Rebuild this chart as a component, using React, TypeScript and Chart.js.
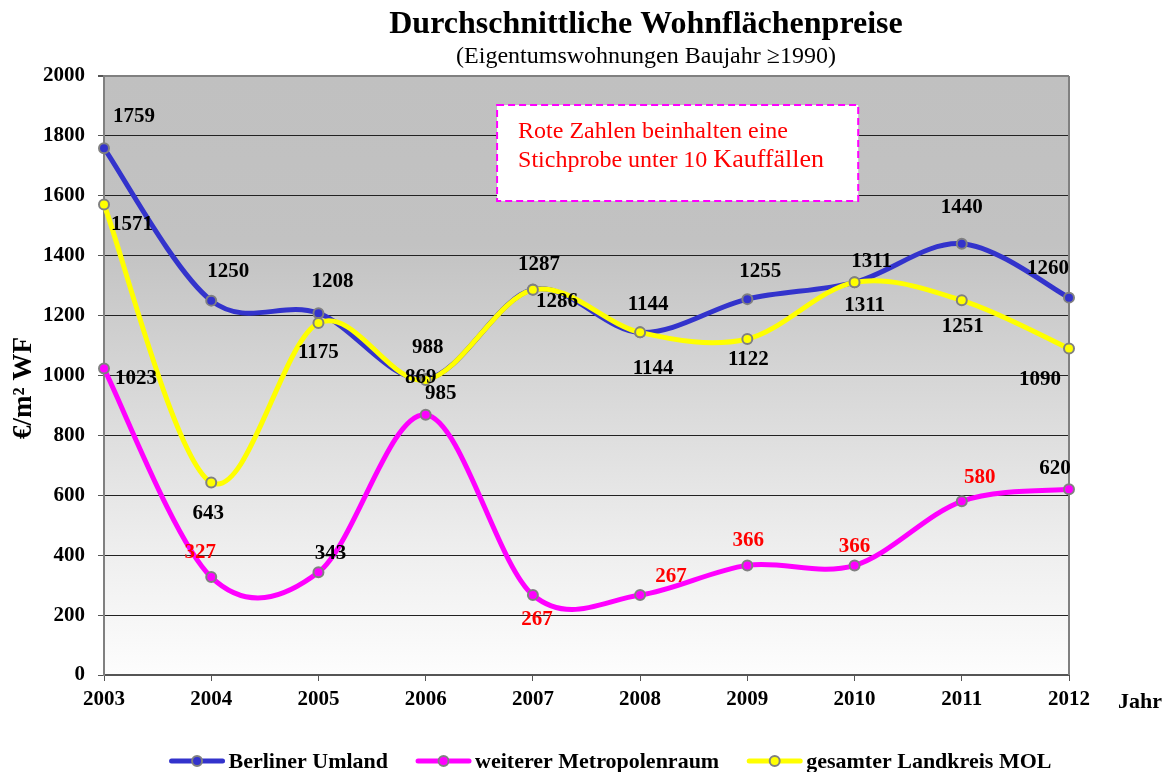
import React, { useEffect, useRef } from 'react';
import { Chart, registerables } from 'chart.js';

Chart.register(...registerables);

const FONT = "'Liberation Serif', 'Times New Roman', Times, serif";

// Years on the category axis
const years = ['2003', '2004', '2005', '2006', '2007', '2008', '2009', '2010', '2011', '2012'];
// Value axis ticks (€/m²)
const yTickValues = [0, 200, 400, 600, 800, 1000, 1200, 1400, 1600, 1800, 2000];

// Average prices per m² living area
const berlinerUmland = [1759, 1250, 1208, 988, 1287, 1144, 1255, 1311, 1440, 1260];
const weitererMetropolenraum = [1023, 327, 343, 869, 267, 267, 366, 366, 580, 620];
const landkreisMOL = [1571, 643, 1175, 985, 1286, 1144, 1122, 1311, 1251, 1090];
// Metropolenraum values based on fewer than 10 sales (printed in red)
const metropolenraumUnder10 = [false, true, false, false, true, true, true, true, true, false];

const seriesLabels = ['Berliner Umland', 'weiterer Metropolenraum', 'gesamter Landkreis MOL'];
const seriesColors = ['#3333cc', '#ff00ff', '#ffff00'];

// Value label placement relative to each point (dx, dy in px)
const berlinerLabelOffset = [[30, -32], [17, -29], [14, -32], [2, -32], [6, -25], [8, -28], [13, -28], [17, -21], [0, -36], [-21, -29]];
const metropolenLabelOffset = [[32, 10], [-11, -24], [12, -19], [-5, -37], [4, 25], [31, -18], [1, -25], [0, -19], [18, -24], [-14, -21]];
const molLabelOffset = [[28, 20], [-3, 31], [0, 29], [15, 14], [24, 12], [13, 36], [1, 21], [10, 23], [1, 26], [-29, 31]];

const titleText = 'Durchschnittliche Wohnflächenpreise';
const subtitleText = '(Eigentumswohnungen Baujahr \u22651990)';
const yAxisTitle = '€/m² WF';
const xAxisTitle = 'Jahr';
const noteLine1 = 'Rote Zahlen beinhalten eine';
const noteLine2a = 'Stichprobe unter 10 ';
const noteLine2b = 'Kauffällen';

const labelOffsets = [berlinerLabelOffset, metropolenLabelOffset, molLabelOffset];
const labelColor = (ds: number, i: number) =>
  ds === 1 && metropolenraumUnder10[i] ? '#ff0000' : '#000000';

// Spreadsheet-style smoothing: uniform Catmull-Rom tangents (neighbour difference / 6)
function applyUniformSmoothing(chart: any) {
  chart.data.datasets.forEach((_ds: any, d: number) => {
    const meta = chart.getDatasetMeta(d);
    const line = meta.dataset;
    if (line && typeof line.updateControlPoints === 'function') {
      line.updateControlPoints(chart.chartArea, 'x');
    }
    const pts = meta.data;
    const n = pts.length;
    for (let i = 0; i < n; i++) {
      const prev = pts[Math.max(0, i - 1)];
      const next = pts[Math.min(n - 1, i + 1)];
      const tx = (next.x - prev.x) / 6;
      const ty = (next.y - prev.y) / 6;
      pts[i].cp1x = pts[i].x - tx;
      pts[i].cp1y = pts[i].y - ty;
      pts[i].cp2x = pts[i].x + tx;
      pts[i].cp2y = pts[i].y + ty;
    }
  });
}

const decorPlugin = {
  id: 'decor',
  beforeDraw(chart: any) {
    const { ctx, chartArea: a } = chart;
    const g = ctx.createLinearGradient(0, a.top, 0, a.bottom);
    g.addColorStop(0, '#c0c0c0');
    g.addColorStop(0.28, '#c2c2c2');
    g.addColorStop(0.55, '#dadada');
    g.addColorStop(0.8, '#efefef');
    g.addColorStop(1, '#fdfdfd');
    ctx.save();
    ctx.fillStyle = g;
    ctx.fillRect(a.left, a.top, a.right - a.left, a.bottom - a.top);
    ctx.restore();
  },
  beforeDatasetsDraw(chart: any) {
    applyUniformSmoothing(chart);
    const { ctx, chartArea: a, scales } = chart;
    ctx.save();
    // right frame edge
    ctx.strokeStyle = '#808080';
    ctx.lineWidth = 2;
    ctx.beginPath();
    ctx.moveTo(a.right, a.top);
    ctx.lineTo(a.right, a.bottom);
    ctx.stroke();

    // note box
    const x0 = scales.x.getPixelForValue(3.666);
    const x1 = scales.x.getPixelForValue(7.034);
    const y0 = scales.y.getPixelForValue(1903);
    const y1 = scales.y.getPixelForValue(1583);
    ctx.fillStyle = '#ffffff';
    ctx.fillRect(x0, y0, x1 - x0, y1 - y0);
    ctx.setLineDash([7, 4]);
    ctx.strokeStyle = '#ff00ff';
    ctx.lineWidth = 2;
    ctx.strokeRect(x0, y0, x1 - x0, y1 - y0);
    ctx.setLineDash([]);
    ctx.fillStyle = '#ff0000';
    ctx.textAlign = 'left';
    ctx.textBaseline = 'alphabetic';
    ctx.font = `24px ${FONT}`;
    ctx.fillText(noteLine1, x0 + 21, y0 + 33);
    ctx.fillText(noteLine2a, x0 + 21, y0 + 62);
    const w = ctx.measureText(noteLine2a).width;
    ctx.font = `26px ${FONT}`;
    ctx.fillText(noteLine2b, x0 + 21 + w, y0 + 62);
    ctx.restore();
  },
  afterDatasetsDraw(chart: any) {
    const { ctx } = chart;
    ctx.save();
    ctx.font = `bold 21px ${FONT}`;
    ctx.textAlign = 'center';
    ctx.textBaseline = 'middle';
    chart.data.datasets.forEach((ds: any, d: number) => {
      const meta = chart.getDatasetMeta(d);
      meta.data.forEach((pt: any, i: number) => {
        const [dx, dy] = labelOffsets[d][i];
        ctx.fillStyle = labelColor(d, i);
        ctx.fillText(String(ds.data[i]), pt.x + dx, pt.y + dy);
      });
    });
    ctx.restore();
  },
  afterDraw(chart: any) {
    const { ctx } = chart;
    ctx.save();
    ctx.fillStyle = '#000000';
    ctx.textAlign = 'center';
    ctx.textBaseline = 'alphabetic';
    ctx.font = `bold 32px ${FONT}`;
    ctx.fillText(titleText, 646, 33);
    ctx.font = `24px ${FONT}`;
    ctx.fillText(subtitleText, 646, 63);

    ctx.font = `bold 22px ${FONT}`;
    ctx.fillText(xAxisTitle, 1140, 708);

    ctx.save();
    ctx.translate(24, 388);
    ctx.rotate(-Math.PI / 2);
    ctx.font = `bold 27px ${FONT}`;
    ctx.textBaseline = 'middle';
    ctx.fillText(yAxisTitle, 0, 0);
    ctx.restore();

    // legend
    ctx.font = `bold 22px ${FONT}`;
    const markerW = 55;
    const markerGap = 4;
    const itemGap = 28;
    const widths = seriesLabels.map((s) => ctx.measureText(s).width);
    const total = widths.reduce((s, w) => s + w + markerW + markerGap, 0) + itemGap * (seriesLabels.length - 1);
    let x = 610.5 - total / 2;
    const ly = 761;
    ctx.textAlign = 'left';
    seriesLabels.forEach((s, i) => {
      ctx.strokeStyle = seriesColors[i];
      ctx.lineWidth = 5;
      ctx.lineCap = 'round';
      ctx.beginPath();
      ctx.moveTo(x + 2, ly);
      ctx.lineTo(x + markerW - 2, ly);
      ctx.stroke();
      ctx.beginPath();
      ctx.arc(x + markerW / 2, ly, 5, 0, Math.PI * 2);
      ctx.fillStyle = seriesColors[i];
      ctx.fill();
      ctx.lineWidth = 2;
      ctx.strokeStyle = '#808080';
      ctx.stroke();
      ctx.fillStyle = '#000000';
      ctx.fillText(s, x + markerW + markerGap, 768);
      x += markerW + markerGap + widths[i] + itemGap;
    });
    ctx.restore();
  },
};

export default function App() {
  const canvasRef = useRef<HTMLCanvasElement | null>(null);

  useEffect(() => {
    const canvas = canvasRef.current;
    if (!canvas) return;
    const seriesData = [berlinerUmland, weitererMetropolenraum, landkreisMOL];
    const drawOrder = [1, 2, 0];
    const chart = new Chart(canvas, {
      type: 'line',
      data: {
        labels: years,
        datasets: seriesData.map((data, i) => ({
          label: seriesLabels[i],
          data,
          borderColor: seriesColors[i],
          backgroundColor: seriesColors[i],
          pointBackgroundColor: seriesColors[i],
          pointBorderColor: '#808080',
          pointBorderWidth: 2,
          pointRadius: 5,
          borderWidth: 5,
          tension: 0.4,
          fill: false,
          order: drawOrder[i],
        })),
      },
      options: {
        responsive: false,
        animation: false,
        events: [],
        layout: { padding: { top: 76, right: 102, bottom: 57, left: 0 } },
        plugins: {
          legend: { display: false },
          title: { display: false },
          tooltip: { enabled: false },
        },
        elements: { line: { capBezierPoints: false } },
        scales: {
          x: {
            type: 'category',
            offset: false,
            grid: {
              display: true,
              drawOnChartArea: false,
              drawTicks: true,
              tickLength: 6,
              color: '#555555',
            },
            border: { color: '#555555', width: 2 },
            ticks: {
              color: '#000000',
              font: { family: FONT, size: 21, weight: 'bold' },
              padding: 6,
              maxRotation: 0,
              autoSkip: false,
            },
            afterFit: (scale: any) => {
              scale.height = 40;
            },
          },
          y: {
            min: 0,
            max: 2000,
            afterBuildTicks: (scale: any) => {
              scale.ticks = yTickValues.map((v) => ({ value: v }));
            },
            grid: {
              color: (c: any) => (c.tick && c.tick.value === 2000 ? '#808080' : '#222222'),
              lineWidth: (c: any) => (c.tick && c.tick.value === 2000 ? 2 : 1),
              tickColor: '#555555',
              tickLength: 6,
            },
            border: { color: '#808080', width: 2 },
            ticks: {
              color: '#000000',
              font: { family: FONT, size: 21, weight: 'bold' },
              padding: 13,
              callback: (v: any) => String(v),
            },
            afterFit: (scale: any) => {
              scale.width = 104;
            },
          },
        },
      },
      plugins: [decorPlugin],
    } as any);
    return () => chart.destroy();
  }, []);

  return (
    <canvas
      ref={canvasRef}
      width={1171}
      height={772}
      style={{ position: 'fixed', left: 0, top: 0, display: 'block', width: 1171, height: 772 }}
    />
  );
}
